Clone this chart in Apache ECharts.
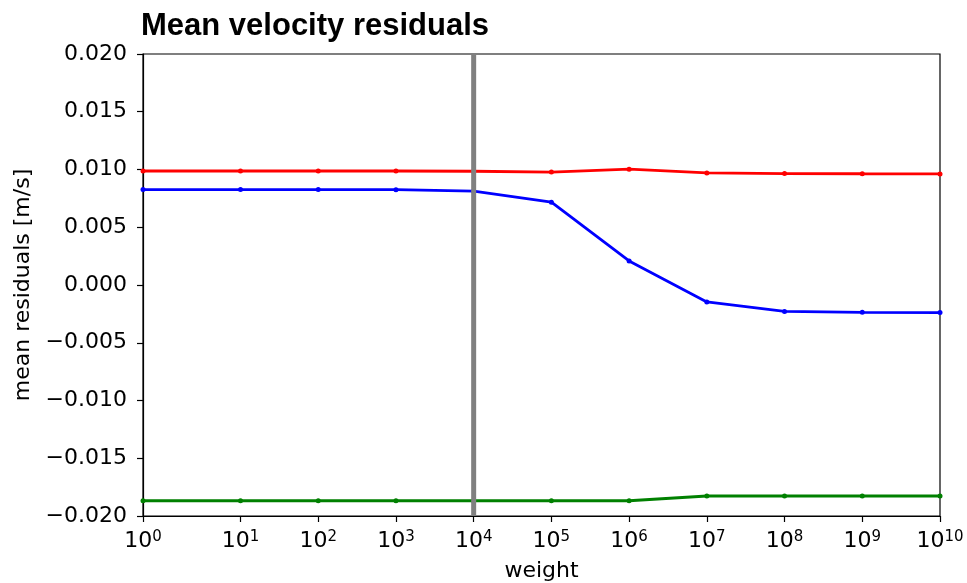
<!DOCTYPE html>
<html>
<head>
<meta charset="utf-8">
<script src="https://cdn.jsdelivr.net/npm/echarts@6/dist/echarts.min.js"></script>
<style>
  html, body { margin: 0; padding: 0; background: #fff; }
  #chart { width: 967px; height: 583px; }
</style>
</head>
<body>
<div id="chart"></div>
<script>
// Regularisation weights
const weights = [1, 1e1, 1e2, 1e3, 1e4, 1e5, 1e6, 1e7, 1e8, 1e9, 1e10];
// Mean velocity residuals per component [m/s]
const redResiduals   = [0.00987, 0.00987, 0.00987, 0.00987, 0.00985, 0.00978, 0.01003, 0.00970, 0.00965, 0.00963, 0.00962];
const blueResiduals  = [0.00826, 0.00826, 0.00826, 0.00825, 0.00813, 0.00717, 0.00208, -0.00147, -0.00229, -0.00237, -0.00239];
const greenResiduals = [-0.01868, -0.01868, -0.01868, -0.01868, -0.01868, -0.01868, -0.01868, -0.01827, -0.01827, -0.01827, -0.01827];
// Chosen weight, marked with a vertical line
const chosenWeight = 1e4;
// Tick positions
const xTickWeights = [1, 1e1, 1e2, 1e3, 1e4, 1e5, 1e6, 1e7, 1e8, 1e9, 1e10];
const yTicks = { min: -0.02, max: 0.02, step: 0.005 };

// Symmetric-log transform of the weight axis (linear below LINTHRESH, log10 above)
const LINTHRESH = 2;
const LINSCALE_ADJ = 1 / (1 - 1 / 10);
function symlog(x) {
  const a = Math.abs(x);
  const s = Math.sign(x);
  if (a <= LINTHRESH) return x * LINSCALE_ADJ / LINTHRESH;
  return s * (LINSCALE_ADJ + Math.log10(a / LINTHRESH));
}

const pairs = vals => weights.map((w, i) => [symlog(w), vals[i]]);
const fmtY = v => {
  const s = Math.abs(v).toFixed(3);
  return (v < -1e-12 ? '\u2212' : '') + s;
};
const xTickPos = xTickWeights.map(symlog);
const fmtX = v => {
  let best = 0;
  xTickPos.forEach((p, i) => { if (Math.abs(p - v) < Math.abs(xTickPos[best] - v)) best = i; });
  return '{b|10}{sup|' + Math.round(Math.log10(xTickWeights[best])) + '}';
};

const chart = echarts.init(document.getElementById('chart'), null, { renderer: 'canvas' });
const lineSeries = (name, color, vals) => ({
  name, type: 'line', data: pairs(vals),
  symbol: 'circle', symbolSize: 5, showSymbol: true,
  lineStyle: { color, width: 2.8 },
  itemStyle: { color },
  emphasis: { disabled: true },
  animation: false
});

const FONT = 'DejaVu Sans';
chart.setOption({
  animation: false,
  title: {
    text: 'Mean velocity residuals',
    left: 136, top: 6,
    textStyle: { fontFamily: 'Liberation Sans', fontWeight: 'bold', fontSize: 31, color: '#000' }
  },
  grid: {
    left: 143, right: 27, top: 54, bottom: 67,
    outerBoundsMode: 'none', containLabel: false,
    show: true, borderColor: '#000', borderWidth: 1.2, backgroundColor: '#fff'
  },
  xAxis: {
    type: 'value', min: symlog(xTickWeights[0]), max: symlog(xTickWeights[xTickWeights.length - 1]),
    name: 'weight', nameLocation: 'middle', nameGap: 44,
    nameTextStyle: { fontFamily: FONT, fontSize: 22, color: '#000' },
    axisLine: { show: true, onZero: false, lineStyle: { color: '#000', width: 1.2 } },
    axisTick: { show: true, inside: false, length: 6, customValues: xTickPos, lineStyle: { color: '#000', width: 1.2 } },
    splitLine: { show: false },
    axisLabel: {
      color: '#000', margin: 14, customValues: xTickPos,
      formatter: fmtX,
      rich: {
        b: { fontFamily: FONT, fontSize: 22, color: '#000' },
        sup: { fontFamily: FONT, fontSize: 15, verticalAlign: 'top', color: '#000' }
      }
    }
  },
  yAxis: {
    type: 'value', min: yTicks.min, max: yTicks.max, interval: yTicks.step,
    name: 'mean residuals [m/s]', nameLocation: 'middle', nameGap: 108,
    nameTextStyle: { fontFamily: FONT, fontSize: 22, color: '#000' },
    axisLine: { show: true, lineStyle: { color: '#000', width: 1.2 } },
    axisTick: { show: true, inside: false, length: 6, lineStyle: { color: '#000', width: 1.2 } },
    splitLine: { show: false },
    axisLabel: { color: '#000', fontFamily: FONT, fontSize: 22, margin: 16, formatter: fmtY }
  },
  series: [
    lineSeries('red', '#ff0000', redResiduals),
    lineSeries('blue', '#0000ff', blueResiduals),
    lineSeries('green', '#008000', greenResiduals),
    {
      name: 'chosen', type: 'line', z: 10,
      data: [[symlog(chosenWeight), yTicks.min], [symlog(chosenWeight), yTicks.max]],
      symbol: 'none', lineStyle: { color: '#808080', width: 5 },
      emphasis: { disabled: true }, animation: false
    }
  ]
});
</script>
</body>
</html>
